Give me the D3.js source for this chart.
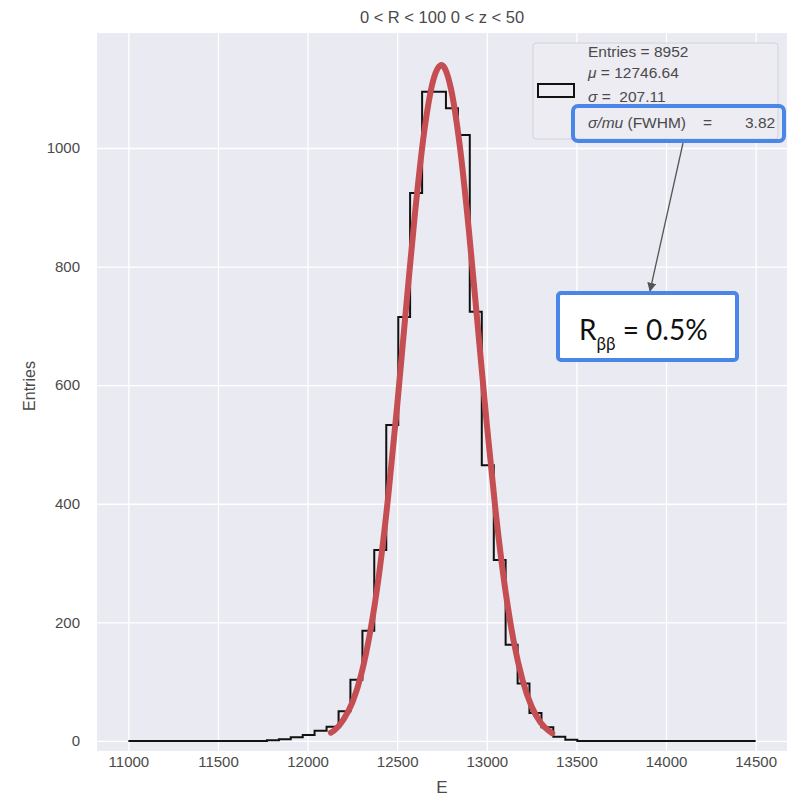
<!DOCTYPE html>
<html>
<head>
  <script src="https://d3js.org/d3.v7.min.js"></script>
  <style>
    body { margin: 0; background: #fff; }
    text { font-family: "Liberation Sans", Arial, sans-serif; white-space: pre; }
  </style>
</head>
<body>
  <div id="chart_div"></div>

  <script>
    // histogram bin edges (E) and counts
    var binEdges = [11773, 11840, 11906, 11973, 12039, 12106, 12173, 12239, 12306, 12372,
                    12439, 12506, 12572, 12639, 12706, 12772, 12839, 12905, 12972, 13039,
                    13105, 13172, 13238, 13305, 13371, 13438, 13505];
    var counts = [1, 3, 6, 10, 17, 24, 50, 103, 186, 322,
                  533, 715, 924, 1095, 1095, 1067, 1022, 724, 465, 305,
                  162, 97, 47, 23, 7, 2];
    var histRange = [11000, 14500];

    // red fit curve
    var fitE = [12130, 12150, 12200, 12250, 12300, 12350, 12400, 12450, 12500, 12550, 12600, 12650,
                12700, 12747, 12800, 12850, 12900, 12950, 13000, 13050, 13100, 13150, 13200, 13250,
                13300, 13350, 13365];
    var fitN = [14, 18, 36, 65, 113, 185, 284, 413, 566, 732, 892, 1026,
                1113, 1140, 1100, 1002, 861, 698, 534, 385, 262, 168, 102, 58,
                31, 16, 13];

    var xTicks = [11000, 11500, 12000, 12500, 13000, 13500, 14000, 14500];
    var yTicks = [0, 200, 400, 600, 800, 1000];

    var W = 788, H = 796;
    var plot = { left: 97, top: 33, right: 787, bottom: 751 };

    var svg = d3.select("#chart_div")
      .append("svg")
      .attr("width", W)
      .attr("height", H);

    var x = d3.scaleLinear()
      .domain([10825, 14675])
      .range([plot.left, plot.right]);

    var y = d3.scaleLinear()
      .domain([-17, 1194])
      .range([plot.bottom, plot.top]);

    // plot background
    svg.append("rect")
      .attr("x", plot.left)
      .attr("y", plot.top)
      .attr("width", plot.right - plot.left)
      .attr("height", plot.bottom - plot.top)
      .attr("fill", "#EAEAF2");

    // grid
    svg.append("g")
      .attr("class", "grid")
      .attr("transform", "translate(0," + plot.bottom + ")")
      .call(d3.axisBottom(x).tickValues(xTicks).tickSize(-(plot.bottom - plot.top)).tickFormat(""))
      .call(function(g) {
        g.select(".domain").remove();
        g.selectAll("line").attr("stroke", "#fff").attr("stroke-width", 1.3);
      });

    svg.append("g")
      .attr("class", "grid")
      .attr("transform", "translate(" + plot.left + ",0)")
      .call(d3.axisLeft(y).tickValues(yTicks).tickSize(-(plot.right - plot.left)).tickFormat(""))
      .call(function(g) {
        g.select(".domain").remove();
        g.selectAll("line").attr("stroke", "#fff").attr("stroke-width", 1.3);
      });

    // tick labels
    svg.append("g")
      .attr("transform", "translate(0," + plot.bottom + ")")
      .call(d3.axisBottom(x).tickValues(xTicks).tickSize(0).tickPadding(5).tickFormat(d3.format("d")))
      .call(function(g) {
        g.select(".domain").remove();
        g.selectAll("text").attr("fill", "#4a4a4a").style("font-size", "15px")
          .style("font-family", "'Liberation Sans', Arial, sans-serif");
      });

    svg.append("g")
      .attr("transform", "translate(" + plot.left + ",0)")
      .call(d3.axisLeft(y).tickValues(yTicks).tickSize(0).tickPadding(17).tickFormat(d3.format("d")))
      .call(function(g) {
        g.select(".domain").remove();
        g.selectAll("text").attr("fill", "#4a4a4a").style("font-size", "15px")
          .style("font-family", "'Liberation Sans', Arial, sans-serif");
      });

    // axis labels and title
    svg.append("text")
      .attr("x", (plot.left + plot.right) / 2)
      .attr("y", 793)
      .attr("text-anchor", "middle")
      .style("font-size", "17px")
      .attr("fill", "#4a4a4a")
      .text("E");

    svg.append("text")
      .attr("transform", "translate(35,386) rotate(-90)")
      .attr("text-anchor", "middle")
      .style("font-size", "16px")
      .attr("fill", "#4a4a4a")
      .text("Entries");

    svg.append("text")
      .attr("x", (plot.left + plot.right) / 2)
      .attr("y", 23)
      .attr("text-anchor", "middle")
      .style("font-size", "16.5px")
      .attr("fill", "#4a4a4a")
      .text("0 < R < 100 0 < z < 50");

    // histogram outline (step)
    var pts = [[histRange[0], 0], [binEdges[0], 0]];
    counts.forEach(function(c, i) {
      pts.push([binEdges[i], c]);
      pts.push([binEdges[i + 1], c]);
    });
    pts.push([binEdges[binEdges.length - 1], 0]);
    pts.push([histRange[1], 0]);

    svg.append("path")
      .datum(pts)
      .attr("fill", "none")
      .attr("stroke", "#111")
      .attr("stroke-width", 2)
      .attr("d", d3.line()
        .x(function(d) { return x(d[0]); })
        .y(function(d) { return y(d[1]); }));

    // fit curve
    svg.append("path")
      .datum(fitE.map(function(e, i) { return [e, fitN[i]]; }))
      .attr("fill", "none")
      .attr("stroke", "#C44E52")
      .attr("stroke-width", 6)
      .attr("stroke-linecap", "round")
      .attr("d", d3.line()
        .curve(d3.curveMonotoneX)
        .x(function(d) { return x(d[0]); })
        .y(function(d) { return y(d[1]); }));

    // legend
    var lg = svg.append("g").attr("transform", "translate(533,43)");
    lg.append("rect")
      .attr("width", 245)
      .attr("height", 96)
      .attr("rx", 3)
      .attr("fill", "#ECECF2")
      .attr("stroke", "#D2D2DA");
    lg.append("rect")
      .attr("x", 5)
      .attr("y", 41)
      .attr("width", 36)
      .attr("height", 13)
      .attr("fill", "none")
      .attr("stroke", "#111")
      .attr("stroke-width", 2);

    function legendText(yy) {
      return lg.append("text")
        .attr("x", 55)
        .attr("y", yy)
        .style("font-size", "15.5px")
        .attr("fill", "#4a4a4a");
    }
    legendText(14).text("Entries = 8952");
    var t1 = legendText(35);
    t1.append("tspan").style("font-style", "italic").text("μ");
    t1.append("tspan").text(" = 12746.64");
    var t2 = legendText(59);
    t2.append("tspan").style("font-style", "italic").text("σ");
    t2.append("tspan").text(" =  207.11");
    var t3 = legendText(85);
    t3.append("tspan").style("font-style", "italic").text("σ/mu");
    t3.append("tspan").text(" (FWHM)");
    t3.append("tspan").attr("x", 170).text("=");
    t3.append("tspan").attr("x", 212).text("3.82");

    // blue highlight box around sigma/mu line
    svg.append("rect")
      .attr("x", 573)
      .attr("y", 106)
      .attr("width", 211)
      .attr("height", 35)
      .attr("rx", 5)
      .attr("fill", "none")
      .attr("stroke", "#4A86E8")
      .attr("stroke-width", 4);

    // arrow
    var defs = svg.append("defs");
    defs.append("marker")
      .attr("id", "arrow")
      .attr("viewBox", "0 0 10 10")
      .attr("refX", 9)
      .attr("refY", 5)
      .attr("markerWidth", 7)
      .attr("markerHeight", 7)
      .attr("orient", "auto")
      .append("path")
      .attr("d", "M0,0 L10,5 L0,10 z")
      .attr("fill", "#555");

    svg.append("line")
      .attr("x1", 683)
      .attr("y1", 143)
      .attr("x2", 650)
      .attr("y2", 291)
      .attr("stroke", "#555")
      .attr("stroke-width", 1.3)
      .attr("marker-end", "url(#arrow)");

    // annotation box
    svg.append("rect")
      .attr("x", 558)
      .attr("y", 293)
      .attr("width", 179)
      .attr("height", 67)
      .attr("rx", 3)
      .attr("fill", "#fff")
      .attr("stroke", "#4A86E8")
      .attr("stroke-width", 4);

    var ann = svg.append("text")
      .attr("x", 579)
      .attr("y", 340)
      .style("font-family", "Lato, 'Noto Sans', sans-serif")
      .style("font-size", "28px")
      .attr("fill", "#111");
    ann.append("tspan").text("R");
    ann.append("tspan").attr("dy", 10).style("font-size", "17px").text("ββ");
    ann.append("tspan").attr("dy", -10).text(" = 0.5%");
  </script>
</body>
</html>
